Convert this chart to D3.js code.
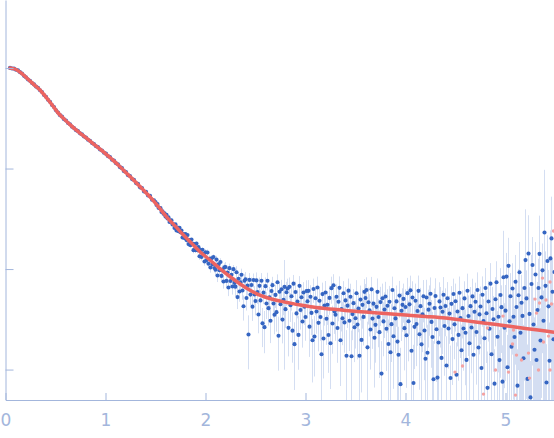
<!DOCTYPE html>
<html><head><meta charset="utf-8">
<script src="https://cdn.jsdelivr.net/npm/d3@7"></script>
<style>html,body{margin:0;padding:0;background:#fff;}svg{display:block;}</style>
</head><body>
<svg id="c" width="554" height="438"></svg>
<script>
// scattering vector q (nm^-1)
const q = [
0.045,0.065,0.085,0.105,0.125,0.145,0.165,0.185,0.205,0.225,0.245,0.265,0.285,0.305,0.325,0.345,0.365,0.385,0.405,0.425,
0.445,0.465,0.485,0.505,0.525,0.545,0.565,0.585,0.605,0.625,0.645,0.665,0.685,0.705,0.725,0.745,0.765,0.785,0.805,0.825,
0.845,0.865,0.885,0.905,0.925,0.945,0.965,0.985,1.005,1.025,1.045,1.065,1.085,1.105,1.125,1.145,1.165,1.185,1.205,1.225,
1.245,1.265,1.285,1.305,1.325,1.345,1.365,1.385,1.405,1.425,1.445,1.465,1.485,
1.50,1.51,1.52,1.53,1.54,1.55,1.56,1.57,1.58,1.59,
1.60,1.61,1.62,1.63,1.64,1.65,1.66,1.67,1.68,1.69,
1.70,1.71,1.72,1.73,1.74,1.75,1.76,1.77,1.78,1.79,
1.80,1.81,1.82,1.83,1.84,1.85,1.86,1.87,1.88,1.89,
1.90,1.91,1.92,1.93,1.94,1.95,1.96,1.97,1.98,1.99,
2.00,2.01,2.02,2.03,2.04,2.05,2.06,2.07,2.08,2.09,
2.10,2.11,2.12,2.13,2.14,2.15,2.16,2.17,2.18,2.19,
2.20,2.21,2.22,2.23,2.24,2.25,2.26,2.27,2.28,2.29,
2.30,2.31,2.32,2.33,2.34,2.35,2.36,2.37,2.38,2.39,
2.40,2.41,2.42,2.43,2.44,2.45,2.46,2.47,2.48,2.49,
2.50,2.51,2.52,2.53,2.54,2.55,2.56,2.57,2.58,2.59,
2.60,2.61,2.62,2.63,2.64,2.65,2.66,2.67,2.68,2.69,
2.70,2.71,2.72,2.73,2.74,2.75,2.76,2.77,2.78,2.79,
2.80,2.81,2.82,2.83,2.84,2.85,2.86,2.87,2.88,2.89,
2.90,2.91,2.92,2.93,2.94,2.95,2.96,2.97,2.98,2.99,
3.00,3.01,3.02,3.03,3.04,3.05,3.06,3.07,3.08,3.09,
3.10,3.11,3.12,3.13,3.14,3.15,3.16,3.17,3.18,3.19,
3.20,3.21,3.22,3.23,3.24,3.25,3.26,3.27,3.28,3.29,
3.30,3.31,3.32,3.33,3.34,3.35,3.36,3.37,3.38,3.39,
3.40,3.41,3.42,3.43,3.44,3.45,3.46,3.47,3.48,3.49,
3.50,3.51,3.52,3.53,3.54,3.55,3.56,3.57,3.58,3.59,
3.60,3.61,3.62,3.63,3.64,3.65,3.66,3.67,3.68,3.69,
3.70,3.71,3.72,3.73,3.74,3.75,3.76,3.77,3.78,3.79,
3.80,3.81,3.82,3.83,3.84,3.85,3.86,3.87,3.88,3.89,
3.90,3.91,3.92,3.93,3.94,3.95,3.96,3.97,3.98,3.99,
4.00,4.01,4.02,4.03,4.04,4.05,4.06,4.07,4.08,4.09,
4.10,4.11,4.12,4.13,4.14,4.15,4.16,4.17,4.18,4.19,
4.20,4.21,4.22,4.23,4.24,4.25,4.26,4.27,4.28,4.29,
4.30,4.31,4.32,4.33,4.34,4.35,4.36,4.37,4.38,4.39,
4.40,4.41,4.42,4.43,4.44,4.45,4.46,4.47,4.48,4.49,
4.50,4.51,4.52,4.53,4.54,4.55,4.56,4.57,4.58,4.59,
4.60,4.61,4.62,4.63,4.64,4.65,4.66,4.67,4.68,4.69,
4.70,4.71,4.72,4.73,4.74,4.75,4.76,4.77,4.78,4.79,
4.80,4.81,4.82,4.83,4.84,4.85,4.86,4.87,4.88,4.89,
4.90,4.91,4.92,4.93,4.94,4.95,4.96,4.97,4.98,4.99,
5.00,5.01,5.02,5.03,5.04,5.05,5.06,5.07,5.08,5.09,
5.10,5.11,5.12,5.13,5.14,5.15,5.16,5.17,5.18,5.19,
5.20,5.21,5.22,5.23,5.24,5.25,5.26,5.27,5.28,5.29,
5.30,5.31,5.32,5.33,5.34,5.35,5.36,5.37,5.38,5.39,
5.40,5.41,5.42,5.43,5.44,5.45,5.46,5.47,5.48,5.49];

// log10 of measured intensity
const logI = [
4.001,3.995,3.994,3.983,3.977,3.959,3.946,3.922,3.907,3.886,3.874,3.851,3.837,3.815,3.803,3.779,3.761,3.731,3.713,3.685,
3.665,3.632,3.611,3.579,3.558,3.531,3.517,3.491,3.478,3.453,3.440,3.416,3.404,3.382,3.372,3.350,3.340,3.318,3.308,3.286,
3.276,3.254,3.244,3.222,3.213,3.190,3.180,3.157,3.148,3.123,3.114,3.088,3.079,3.052,3.043,3.014,3.004,2.974,2.966,2.934,
2.926,2.895,2.887,2.855,2.848,2.813,2.807,2.772,2.768,2.731,2.728,2.690,2.683,
2.666,2.638,2.646,2.609,2.606,2.606,2.567,2.574,2.549,2.555,
2.522,2.540,2.504,2.514,2.468,2.482,2.484,2.444,2.445,2.409,
2.444,2.383,2.412,2.376,2.411,2.365,2.384,2.314,2.348,2.308,
2.348,2.288,2.338,2.248,2.288,2.238,2.293,2.253,2.188,2.248,
2.188,2.253,2.188,2.218,2.128,2.188,2.120,2.192,2.148,2.075,
2.167,2.088,2.165,2.052,2.103,2.015,2.107,2.048,2.120,2.011,
1.993,2.094,1.936,2.047,1.989,2.070,1.932,1.994,1.876,2.018,
2.020,1.882,1.965,1.817,2.009,1.881,1.944,1.827,1.999,1.862,
1.825,1.968,1.721,1.904,1.777,1.869,1.943,1.786,1.630,1.884,
1.898,1.712,1.835,1.349,1.892,1.746,1.841,1.626,1.891,1.747,
1.682,1.887,1.772,1.548,1.833,1.688,1.884,1.460,1.765,1.422,
1.830,1.657,1.884,1.611,1.718,1.485,1.782,1.840,1.657,1.545,
1.743,1.571,1.868,1.336,1.774,1.651,1.799,1.497,1.695,1.823,
1.601,1.769,1.807,1.415,1.823,1.641,1.729,1.387,1.855,1.253,
1.771,1.559,1.677,1.345,1.833,1.592,1.720,1.478,1.766,1.625,
1.523,1.781,1.680,1.783,1.427,1.725,1.564,1.292,1.801,1.329,
1.709,1.578,1.817,1.465,1.684,1.523,1.152,1.751,1.309,1.638,
1.767,1.506,1.645,1.344,1.713,1.262,1.810,1.459,1.838,1.577,
1.546,1.725,1.414,1.674,1.813,1.292,1.601,1.510,1.759,1.469,
1.688,1.137,1.636,1.785,1.485,1.724,1.133,1.552,1.661,1.421,
1.510,1.759,1.448,1.608,1.137,1.696,1.295,1.644,1.524,1.773,
1.712,1.791,1.221,1.670,1.589,1.398,1.798,1.507,1.656,1.316,
1.445,1.624,1.773,1.523,1.372,1.671,0.960,1.709,1.479,1.598,
1.727,1.406,1.635,1.255,1.674,1.173,1.452,1.791,1.331,1.610,
1.509,1.678,1.278,1.147,1.736,0.855,1.585,1.644,1.703,1.412,
1.622,1.341,1.760,1.480,1.649,1.788,1.187,1.717,0.866,1.425,
1.685,1.454,1.583,1.783,1.352,1.631,1.251,1.550,1.729,1.389,
1.108,1.717,1.167,1.596,1.655,1.755,1.474,1.324,0.903,1.613,
1.732,1.401,0.920,1.269,1.678,1.617,1.116,1.575,1.744,1.433,
1.632,1.041,1.709,1.408,1.557,0.916,1.654,1.303,1.752,1.450,
1.679,0.948,1.577,1.345,1.764,1.513,1.192,1.611,1.409,1.708,
1.367,1.096,1.784,1.533,1.262,1.631,1.419,1.728,1.147,1.575,
1.674,1.373,1.791,1.220,1.549,1.627,1.016,1.745,1.483,1.312,
1.811,1.560,0.818,1.677,1.406,1.855,1.153,1.602,1.501,0.860,
1.699,1.868,1.326,1.525,1.094,1.742,1.621,0.880,1.918,1.417,
1.586,1.925,1.023,2.032,1.481,1.729,1.228,1.807,1.525,1.324,
1.873,1.622,0.840,1.739,1.968,1.366,1.665,1.534,1.112,1.811,
2.089,1.708,0.907,2.155,1.554,0.723,1.851,2.040,1.449,1.197,
1.946,1.095,1.593,1.812,2.151,1.289,1.718,1.987,1.485,2.364,
1.833,0.872,2.080,1.629,1.088,2.106,2.305,1.774,1.302,1.971];

// relative error (sigma / I)
const relErr = [
.01,.01,.01,.01,.01,.01,.01,.01,.01,.01,.01,.01,.01,.01,.01,.01,.01,.01,.01,.01,
.01,.01,.01,.01,.01,.01,.01,.01,.01,.01,.01,.01,.01,.01,.01,.01,.01,.01,.01,.01,
.01,.01,.01,.01,.01,.01,.01,.01,.01,.01,.01,.01,.01,.01,.01,.01,.01,.01,.01,.01,
.01,.01,.01,.01,.01,.01,.01,.01,.01,.01,.01,.01,.01,
.02,.03,.02,.03,.02,.03,.02,.02,.03,.02,
.03,.02,.03,.02,.03,.02,.03,.02,.03,.04,
.03,.04,.03,.04,.03,.04,.03,.05,.03,.04,
.04,.05,.03,.06,.04,.05,.03,.04,.07,.04,
.06,.05,.07,.05,.08,.06,.08,.05,.06,.09,
.07,.09,.07,.1,.08,.11,.07,.09,.06,.1,
.12,.09,.14,.1,.11,.09,.13,.1,.15,.09,
.12,.16,.13,.18,.11,.14,.12,.17,.1,.14,
.2,.15,.24,.16,.21,.17,.15,.19,.28,.16,
.18,.25,.2,.55,.17,.22,.19,.28,.16,.21,
.28,.2,.24,.35,.21,.26,.19,.42,.23,.45,
.22,.3,.2,.33,.27,.4,.23,.21,.28,.36,
.26,.36,.2,.55,.25,.3,.24,.42,.3,.85,
.35,.27,.25,.48,.24,.32,.28,.52,.22,.65,
.27,.4,.32,.55,.25,.36,.3,.45,.27,.34,
.42,.28,.33,.28,.5,.3,.4,.62,.27,.6,
.32,.4,.28,.48,.33,.42,.75,.3,.6,.37,
.3,.45,.37,.58,.32,.65,.3,.5,.29,.4,
.45,.33,.55,.36,.3,.65,.4,.46,.32,.5,
.36,.8,.4,.32,.5,.35,.8,.45,.38,.55,
.5,.35,.55,.42,.85,.38,.7,.42,.48,.34,
.38,.34,.8,.4,.45,.6,.33,.5,.42,.68,
.58,.45,.36,.5,.65,.42,1.1,.4,.55,.48,
.4,.62,.46,.75,.44,.85,.58,.36,.7,.48,
.55,.44,.75,.9,.4,1.3,.5,.46,.42,.62,
.5,.7,.42,.6,.5,.4,.85,.45,1.4,.62,
.48,.62,.55,.42,.72,.52,.85,.58,.45,.68,
.95,.5,.9,.58,.52,.45,.65,.78,1.4,.56,
.5,.7,1.3,.85,.55,.6,1.0,.62,.5,.68,
.5,.95,.45,.6,.5,1.1,.5,.65,.42,.55,
.5,1.1,.55,.65,.45,.6,.8,.5,.62,.48,
.7,.95,.48,.6,.78,.55,.65,.5,.85,.58,
.55,.7,.5,.85,.6,.58,1.1,.52,.65,.78,
.58,.68,1.3,.6,.75,.6,.95,.66,.7,1.2,
.66,.62,.8,.72,1.0,.85,.65,1.3,1.9,.75,
.8,.72,1.1,.9,.85,.7,.95,.78,.85,.9,
.85,.9,1.3,.82,1.0,1.05,.9,.95,1.15,.88,
2.2,.9,1.2,1.4,.85,1.3,.95,.9,.85,1.1,
1.1,1.2,.9,.95,1.4,1.1,.9,.85,1.0,3.2,
1.2,1.4,.8,1.3,1.4,.9,1.6,1.1,1.3,.95];

// points excluded from the fit (pink)
const pinkQ = [4.495,4.57,4.78,4.82,4.90,4.975,5.03,5.07,5.08,5.10,5.11,5.16,5.23,5.24,5.295,5.31,5.33,5.34,5.37,5.38,5.405,5.43,5.445,5.445,5.46,5.48];
const pinkLogI = [0.975,1.035,0.756,1.413,0.995,1.532,0.975,1.254,1.393,0.746,1.144,1.095,1.164,0.915,1.701,1.562,0.995,1.662,1.910,1.274,1.692,1.333,1.871,0.995,1.652,2.378];

// model fit
const fitQ = [0.045,0.105,0.165,0.225,0.285,0.345,0.405,0.465,0.525,0.585,0.645,0.705,0.765,0.825,0.885,0.945,1.005,1.065,1.125,1.185,1.245,1.305,1.365,1.425,1.485,1.55,1.61,1.70,1.78,1.86,1.95,2.05,2.15,2.25,2.35,2.45,2.55,2.65,2.75,2.85,2.95,3.05,3.2,3.4,3.6,3.8,4.0,4.2,4.4,4.6,4.8,5.0,5.2,5.4,5.5];
const fitLogI = [4.000,3.985,3.944,3.888,3.835,3.781,3.710,3.635,3.555,3.494,3.437,3.385,3.337,3.289,3.241,3.193,3.144,3.092,3.038,2.979,2.920,2.861,2.800,2.739,2.674,2.594,2.520,2.424,2.338,2.258,2.168,2.085,2.000,1.921,1.849,1.786,1.738,1.705,1.681,1.661,1.642,1.625,1.607,1.588,1.572,1.557,1.542,1.528,1.512,1.487,1.461,1.436,1.409,1.383,1.370];

const xTicks = [0,1,2,3,4,5];
const yTicks = [10,100,1000,10000];

const svg = d3.select("#c");
svg.append("rect").attr("width",554).attr("height",438).attr("fill","#fff");

const x = d3.scaleLinear().domain([0,5.485]).range([5.5,554]);
const y = d3.scaleLog().domain([47500,4.98]).range([0,400]);
const AXIS = "#a3b6dc";

const n = Math.min(q.length, logI.length, relErr.length);
const pts = d3.range(n).map(i => {
  const I = Math.pow(10, logI[i]);
  return {q:q[i], I:I, lo:I*(1-relErr[i]), hi:I*(1+relErr[i])};
});

const plot = svg.append("g");
plot.append("clipPath").attr("id","clip").append("rect").attr("x",0).attr("y",0).attr("width",554).attr("height",400);
const g = plot.append("g").attr("clip-path","url(#clip)");

// error bars
g.append("g").selectAll("line").data(pts).join("line")
  .attr("x1", d=>x(d.q)).attr("x2", d=>x(d.q))
  .attr("y1", d=> d.lo > 4.98 ? y(d.lo) : 400)
  .attr("y2", d=> Math.max(0, y(d.hi)))
  .attr("stroke","#c5d3ee").attr("stroke-opacity",0.75).attr("stroke-width",1);

// data points
g.append("g").selectAll("circle").data(pts).join("circle")
  .attr("cx", d=>x(d.q)).attr("cy", d=>y(d.I)).attr("r",2.05)
  .attr("fill","#3565c2");

// excluded points
g.append("g").selectAll("circle").data(pinkQ.map((v,i)=>[v,Math.pow(10,pinkLogI[i])])).join("circle")
  .attr("cx", d=>x(d[0])).attr("cy", d=>y(d[1])).attr("r",1.7)
  .attr("fill","#f4a2a2");

// fit line
const line = d3.line().x(d=>x(d[0])).y(d=>y(Math.pow(10,d[1]))).curve(d3.curveMonotoneX);
g.append("path").datum(fitQ.map((v,i)=>[v,fitLogI[i]]))
  .attr("d", line).attr("fill","none")
  .attr("stroke","#ec6461").attr("stroke-width",3.5).attr("stroke-linecap","round");

// axes
const xAxis = d3.axisBottom(x).tickValues(xTicks).tickFormat(d3.format("d"))
  .tickSizeInner(-7).tickSizeOuter(0).tickPadding(14);
const gx = svg.append("g").attr("transform","translate(0,400)").call(xAxis);
gx.select(".domain").attr("stroke",AXIS);
gx.selectAll(".tick line").attr("stroke",AXIS);
gx.selectAll(".tick text").attr("fill",AXIS).attr("font-size","17px")
  .attr("font-family","'DejaVu Sans', sans-serif");

const yAxis = d3.axisRight(y).tickValues(yTicks).tickFormat("").tickSizeInner(8).tickSizeOuter(0);
const gy = svg.append("g").attr("transform","translate(5.5,0)").call(yAxis);
gy.select(".domain").attr("stroke",AXIS);
gy.selectAll(".tick line").attr("stroke",AXIS);
</script>
</body></html>
